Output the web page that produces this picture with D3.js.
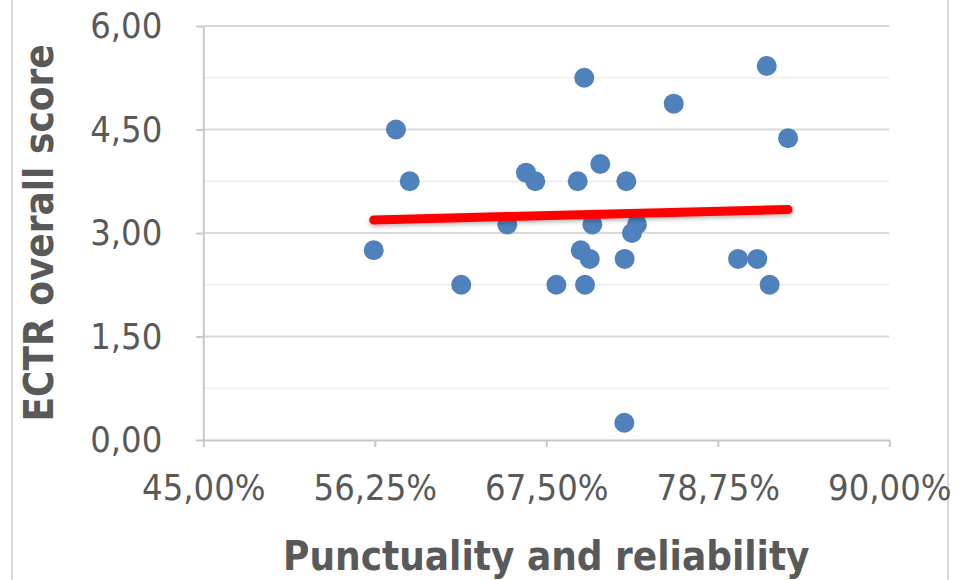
<!DOCTYPE html>
<html>
<head>
<meta charset="utf-8">
<script src="https://cdn.jsdelivr.net/npm/d3@7"></script>
<style>
  html, body { margin: 0; padding: 0; background: #ffffff; }
  svg { display: block; }
  text { font-family: "DejaVu Sans Condensed", "DejaVu Sans", sans-serif; font-stretch: condensed; }
</style>
</head>
<body>
<svg id="chart" width="970" height="580"></svg>
<script>
// ---- data ----
const punctuality = [56.18, 57.64, 58.54, 61.92, 64.94, 66.17, 66.78, 68.16, 69.56, 69.76,
                     69.99, 70.04, 70.35, 70.52, 71.04, 72.64, 72.62, 72.75, 73.12, 73.45,
                     75.86, 80.08, 81.34, 81.96, 82.15, 83.36];
const ectrScore   = [2.75, 4.50, 3.75, 2.25, 3.125, 3.875, 3.75, 2.25, 3.75, 2.75,
                     5.25, 2.25, 2.625, 3.125, 4.00, 2.625, 0.25, 3.75, 3.00, 3.125,
                     4.875, 2.625, 2.625, 5.42, 2.25, 4.375];
const trendX = [56.18, 83.36];
const trendY = [3.19, 3.34];
const xTicks = [45, 56.25, 67.5, 78.75, 90];
const yTicks = [0, 1.5, 3, 4.5, 6];
const yMinor = [0.75, 2.25, 3.75, 5.25];
const xTitle = "Punctuality and reliability";
const yTitle = "ECTR overall score";

// ---- chart ----
const svg = d3.select("#chart");
const locale = d3.formatLocale({decimal: ",", thousands: ".", grouping: [3], currency: ["", "€"]});
const f2 = locale.format(".2f");

const x = d3.scaleLinear().domain([45, 90]).range([203.3, 889.3]);
const y = d3.scaleLinear().domain([0, 6]).range([440, 26]);

// outer border (chart area edges)
svg.append("line").attr("x1", 12).attr("x2", 12).attr("y1", 0).attr("y2", 580)
  .attr("stroke", "#d9d9d9").attr("stroke-width", 2);
svg.append("line").attr("x1", 948).attr("x2", 948).attr("y1", 0).attr("y2", 580)
  .attr("stroke", "#d9d9d9").attr("stroke-width", 2);

// minor gridlines
svg.append("g").selectAll("line").data(yMinor).join("line")
  .attr("x1", x(45)).attr("x2", x(90))
  .attr("y1", d => y(d)).attr("y2", d => y(d))
  .attr("stroke", "#f0f0f0").attr("stroke-width", 2);

// major gridlines
svg.append("g").selectAll("line").data(yTicks.filter(d => d > 0)).join("line")
  .attr("x1", x(45)).attr("x2", x(90))
  .attr("y1", d => y(d)).attr("y2", d => y(d))
  .attr("stroke", "#d9d9d9").attr("stroke-width", 2);

// axes
const xAxis = d3.axisBottom(x).tickValues(xTicks).tickSizeInner(7).tickSizeOuter(0)
  .tickPadding(27.5).tickFormat(d => f2(d) + "%");
const gx = svg.append("g").attr("transform", `translate(0,${y(0)})`).call(xAxis);

const yAxis = d3.axisLeft(y).tickValues(yTicks).tickSizeInner(7).tickSizeOuter(0)
  .tickPadding(34).tickFormat(d => f2(d));
const gy = svg.append("g").attr("transform", `translate(${x(45)},0)`).call(yAxis);

[gx, gy].forEach(g => {
  g.select(".domain").attr("stroke", "#c8c8c8").attr("stroke-width", 2);
  g.selectAll(".tick line").attr("stroke", "#c8c8c8").attr("stroke-width", 2);
  g.selectAll(".tick text").attr("fill", "#595959").style("font-size", "36px")
    .style("font-family", '"DejaVu Sans Condensed", "DejaVu Sans", sans-serif');
});

// points
svg.append("g").selectAll("circle").data(punctuality.map((p, i) => [p, ectrScore[i]])).join("circle")
  .attr("cx", d => x(d[0])).attr("cy", d => y(d[1])).attr("r", 10)
  .attr("fill", "#4f81bd");

// trendline shadow filter
const defs = svg.append("defs");
const flt = defs.append("filter").attr("id", "shadow").attr("x", "-10%").attr("y", "-200%")
  .attr("width", "120%").attr("height", "500%");
flt.append("feDropShadow").attr("dx", 0).attr("dy", 2).attr("stdDeviation", 2)
  .attr("flood-color", "#000").attr("flood-opacity", 0.3);

svg.append("path")
  .datum(trendX.map((t, i) => [t, trendY[i]]))
  .attr("d", d3.line().x(d => x(d[0])).y(d => y(d[1])))
  .attr("fill", "none").attr("stroke", "#ff0000").attr("stroke-width", 9)
  .attr("stroke-linecap", "round").attr("filter", "url(#shadow)");

// axis titles
svg.append("text").attr("x", (x(45) + x(90)) / 2).attr("y", 570)
  .attr("text-anchor", "middle").attr("fill", "#595959")
  .style("font-size", "40px").style("font-weight", "bold").text(xTitle);

svg.append("text").attr("transform", `translate(53,${(y(0) + y(6)) / 2}) rotate(-90)`)
  .attr("text-anchor", "middle").attr("fill", "#595959")
  .style("font-size", "40px").style("font-weight", "bold").text(yTitle);
</script>
</body>
</html>
